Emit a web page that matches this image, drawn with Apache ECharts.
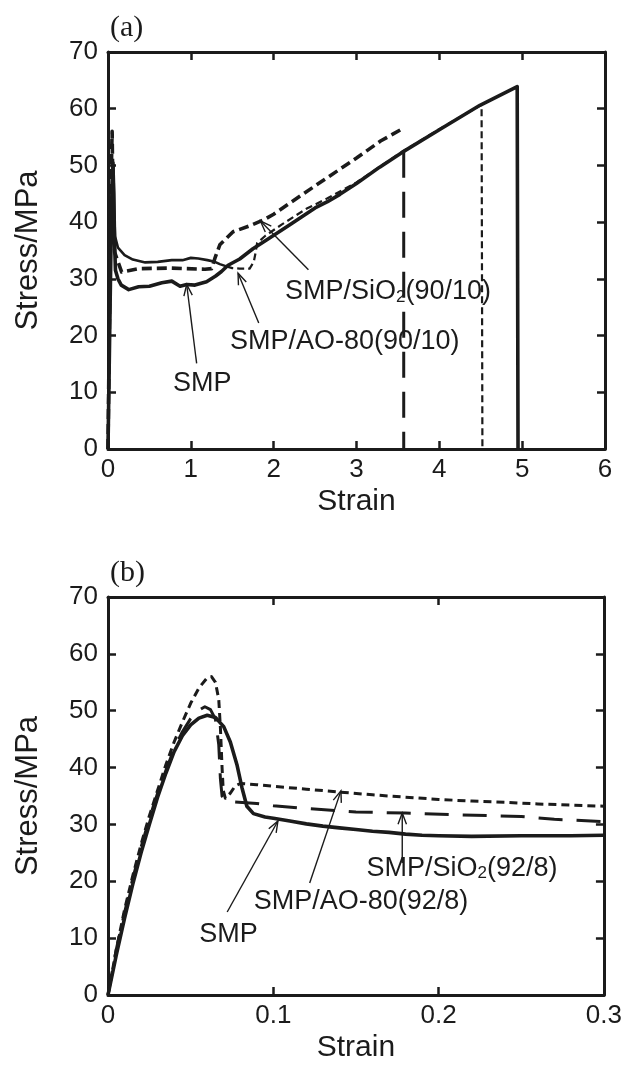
<!DOCTYPE html>
<html><head><meta charset="utf-8">
<script src="https://cdn.jsdelivr.net/npm/echarts@6/dist/echarts.min.js"></script>
<style>html,body{margin:0;padding:0;background:#fff}#c{width:625px;height:1065px}</style>
</head><body><div id="c"></div>
<script>
// ---------- Panel (a) data: [strain, stress MPa] ----------
const smpA = [[0,0],[0.01,10],[0.02,20],[0.03,30],[0.04,40],[0.05,47],[0.06,50],[0.07,45],[0.08,36],[0.09,31.5],[0.12,30],[0.16,28.9],[0.25,28.1],[0.37,28.6],[0.5,28.7],[0.65,29.3],[0.77,29.6],[0.87,28.7],[0.95,29.0],[1.05,28.9],[1.19,29.5],[1.3,30.5],[1.37,31.3],[1.45,32.4],[1.59,33.5],[1.75,35.3],[1.96,37.3],[2.2,39.6],[2.5,42.5],[2.65,43.6],[2.8,44.9],[3.0,46.8],[3.28,49.7],[3.55,52.3],[4.0,56.3],[4.49,60.6],[4.94,63.9],[4.95,0]];
const aoPlateauA = [[0,0],[0.02,21],[0.04,42],[0.055,50],[0.065,50.5],[0.075,42],[0.085,37.5],[0.12,35.5],[0.2,34.2],[0.3,33.4],[0.45,32.9],[0.6,33.0],[0.77,33.3],[0.9,33.3],[1.0,33.7],[1.09,33.6],[1.2,33.3],[1.29,33.0],[1.35,32.6],[1.43,32.2]];
const aoTailA = [[1.43,32.2],[1.5,31.9],[1.59,31.8],[1.71,31.8],[1.76,33.0],[1.78,34.5],[1.8,36.3],[1.9,37.6],[2.1,39.6],[2.4,42.4],[2.65,44.2],[3.0,47.0],[3.55,52.4],[4.0,56.4],[4.51,60.7],[4.52,0]];
const sio2A = [[0,0],[0.015,20],[0.03,40],[0.045,53],[0.05,56],[0.055,50],[0.065,40],[0.08,34.7],[0.165,31.2],[0.37,31.8],[0.77,31.9],[1.17,31.7],[1.25,31.8],[1.29,33.6],[1.35,36.0],[1.51,38.3],[1.7,39.3],[1.88,40.4],[2.0,41.4],[2.5,46.4],[3.0,51.3],[3.29,54.3],[3.57,56.6]];
const sio2DropA = [[3.57,52.4],[3.57,0]];

// ---------- Panel (b) data ----------
const smpB = [[0,0],[0.005,7],[0.01,13.5],[0.015,19.5],[0.02,25],[0.025,30],[0.03,34.8],[0.035,39],[0.04,42.8],[0.045,45.6],[0.05,47.5],[0.055,48.7],[0.06,49.2],[0.065,48.8],[0.07,47.2],[0.074,44.5],[0.078,40.5],[0.081,36.5],[0.084,33.2],[0.088,31.9],[0.095,31.3],[0.1,31.1],[0.11,30.6],[0.12,30.1],[0.13,29.7],[0.14,29.4],[0.15,29.1],[0.16,28.8],[0.17,28.6],[0.18,28.3],[0.19,28.1],[0.2,28.0],[0.22,27.9],[0.25,28.0],[0.28,28.0],[0.3,28.1]];
const aoB = [[0,0],[0.005,8],[0.01,15],[0.015,21],[0.02,26.5],[0.025,31.5],[0.03,36],[0.035,40.5],[0.04,44.5],[0.045,48],[0.05,51.3],[0.055,54],[0.06,55.8],[0.0626,56],[0.065,55],[0.067,52],[0.068,47],[0.069,40],[0.0697,36],[0.071,34.6],[0.074,35.5],[0.077,36.8],[0.08,37.2],[0.09,37.0],[0.1,36.7],[0.12,36.2],[0.14,35.7],[0.16,35.2],[0.18,34.8],[0.2,34.4],[0.22,34.1],[0.24,33.9],[0.26,33.6],[0.28,33.4],[0.3,33.2]];
const sio2B = [[0,0],[0.005,8],[0.01,14.5],[0.015,20.5],[0.02,26],[0.025,31],[0.03,35.5],[0.035,39.5],[0.04,43.3],[0.045,46.3],[0.05,48.6],[0.055,50.1],[0.0586,50.7],[0.062,50.2],[0.065,48.5],[0.067,44],[0.068,38],[0.069,35],[0.071,34.3],[0.075,34.0],[0.09,33.7],[0.1,33.3],[0.12,32.8],[0.15,32.2],[0.18,32.0],[0.21,31.7],[0.25,31.4],[0.27,30.9],[0.3,30.5]];

// ---------- Annotations: arrows [tailX, tailY, headX, headY], label anchors [x, y] ----------
const arrowsA = [[1.07,15.1,0.95,29.0],[1.82,22.2,1.57,31.0],[2.42,31.6,1.84,40.2]];
const labelsA = ['{n|SMP}','{n|SMP/AO-80(90/10)}','{n|SMP/SiO}{s|2}{n|(90/10)}'];
const labelPosA = [[0.785,11.6],[1.473,18.9],[2.137,27.7]];
const arrowsB = [[0.0721,14.6,0.1028,30.6],[0.122,19.7,0.1409,35.9],[0.178,23.2,0.178,32.0]];
const labelsB = ['{n|SMP}','{n|SMP/AO-80(92/8)}','{n|SMP/SiO}{s|2}{n|(92/8)}'];
const labelPosB = [[0.0552,10.7],[0.0881,16.5],[0.1564,22.2]];

const xTicksA = [0,1,2,3,4,5,6];
const xTicksB = ['0','0.1','0.2','0.3'];

const INK = '#1b1b1b';
const FF = '"Liberation Sans", Arial, Helvetica, sans-serif';

function xAxis(grid, max, interval, fmt, top) {
  return {
    type:'value', gridIndex:grid, min:0, max:max, interval:interval, position: top?'top':'bottom',
    axisLine:{show:true, onZero:false, lineStyle:{color:INK, width:3}},
    axisTick:{show:true, inside:true, length:8, lineStyle:{color:INK, width:2.5}},
    axisLabel:{show:!top, formatter:fmt, color:INK, fontSize:26, fontFamily:FF, margin:8},
    splitLine:{show:false},
    name: top?'':'Strain', nameLocation:'middle', nameGap:38,
    nameTextStyle:{color:INK, fontSize:30, fontFamily:FF}
  };
}
function yAxis(grid, right) {
  return {
    type:'value', gridIndex:grid, min:0, max:70, interval:10, position: right?'right':'left',
    axisLine:{show:true, onZero:false, lineStyle:{color:INK, width:3}},
    axisTick:{show:true, inside:true, length:8, lineStyle:{color:INK, width:2.5}},
    axisLabel:{show:!right, color:INK, fontSize:26, fontFamily:FF, margin:10},
    splitLine:{show:false},
    name: right?'':'Stress/MPa', nameLocation:'middle', nameGap:64,
    nameTextStyle:{color:INK, fontSize:31, fontFamily:FF}
  };
}
function line(xi, data, width, type, z) {
  return {type:'line', xAxisIndex:xi, yAxisIndex:xi, data:data, symbol:'none', silent:true, z:z||2,
    lineStyle:{color:INK, width:width, type:type, cap:'butt', join:'round'}, animation:false};
}
function arrowSeries(xi, arrows) {
  return {type:'custom', coordinateSystem:'cartesian2d', xAxisIndex:xi, yAxisIndex:xi, silent:true, z:6,
    data:arrows, animation:false,
    renderItem:function(params, api){
      const t = api.coord([api.value(0), api.value(1)]);
      const h = api.coord([api.value(2), api.value(3)]);
      const ang = Math.atan2(t[1]-h[1], t[0]-h[0]);
      const L = 12, a = 0.36;
      const p1 = [h[0]+L*Math.cos(ang+a), h[1]+L*Math.sin(ang+a)];
      const p2 = [h[0]+L*Math.cos(ang-a), h[1]+L*Math.sin(ang-a)];
      return {type:'group', children:[
        {type:'line', shape:{x1:t[0],y1:t[1],x2:h[0],y2:h[1]}, style:{stroke:INK, lineWidth:1.4}},
        {type:'polyline', shape:{points:[p1,h,p2]}, style:{stroke:INK, lineWidth:1.4, fill:null}}
      ]};
    }};
}
function labelSeries(xi, pos, texts) {
  return {type:'custom', coordinateSystem:'cartesian2d', xAxisIndex:xi, yAxisIndex:xi, silent:true, z:7,
    data:pos, animation:false,
    renderItem:function(params, api){
      const p = api.coord([api.value(0), api.value(1)]);
      return {type:'text', x:p[0], y:p[1], style:{
        text:texts[params.dataIndex], fill:INK, fontSize:27, fontFamily:FF, align:'left', verticalAlign:'middle',
        rich:{n:{fontSize:27, fontFamily:FF, fill:INK},
              s:{fontSize:17, fontFamily:FF, fill:INK, verticalAlign:'bottom', lineHeight:22}}
      }};
    }};
}

const chart = echarts.init(document.getElementById('c'), null, {renderer:'canvas'});
chart.setOption({
  backgroundColor:'#ffffff',
  animation:false,
  grid:[{left:108, top:52, width:497, height:397}, {left:108, top:597, width:496, height:398}],
  xAxis:[xAxis(0,6,1,v=>String(v),false), xAxis(1,0.3,0.1,v=>v===0?'0':v.toFixed(1),false),
         xAxis(0,6,1,null,true), xAxis(1,0.3,0.1,null,true)],
  yAxis:[yAxis(0,false), yAxis(1,false), yAxis(0,true), yAxis(1,true)],
  graphic:[
    {type:'text', left:110, top:13, style:{text:'(a)', fill:INK, fontSize:30, fontFamily:'"Liberation Serif", "Times New Roman", serif'}},
    {type:'text', left:110, top:558, style:{text:'(b)', fill:INK, fontSize:30, fontFamily:'"Liberation Serif", "Times New Roman", serif'}}
  ],
  series:[
    line(0, aoPlateauA, 2.6, 'solid', 3),
    line(0, aoTailA, 2.2, [7,4], 3),
    line(0, sio2A, 3.6, [10,5], 3),
    line(0, sio2DropA, 3, [26,14], 3),
    line(0, smpA, 3.6, 'solid', 4),
    arrowSeries(0, arrowsA),
    labelSeries(0, labelPosA, labelsA),
    line(1, aoB, 3, [8,5], 3),
    line(1, sio2B, 3, [24,14], 3),
    line(1, smpB, 3.6, 'solid', 4),
    arrowSeries(1, arrowsB),
    labelSeries(1, labelPosB, labelsB)
  ]
});
</script></body></html>
